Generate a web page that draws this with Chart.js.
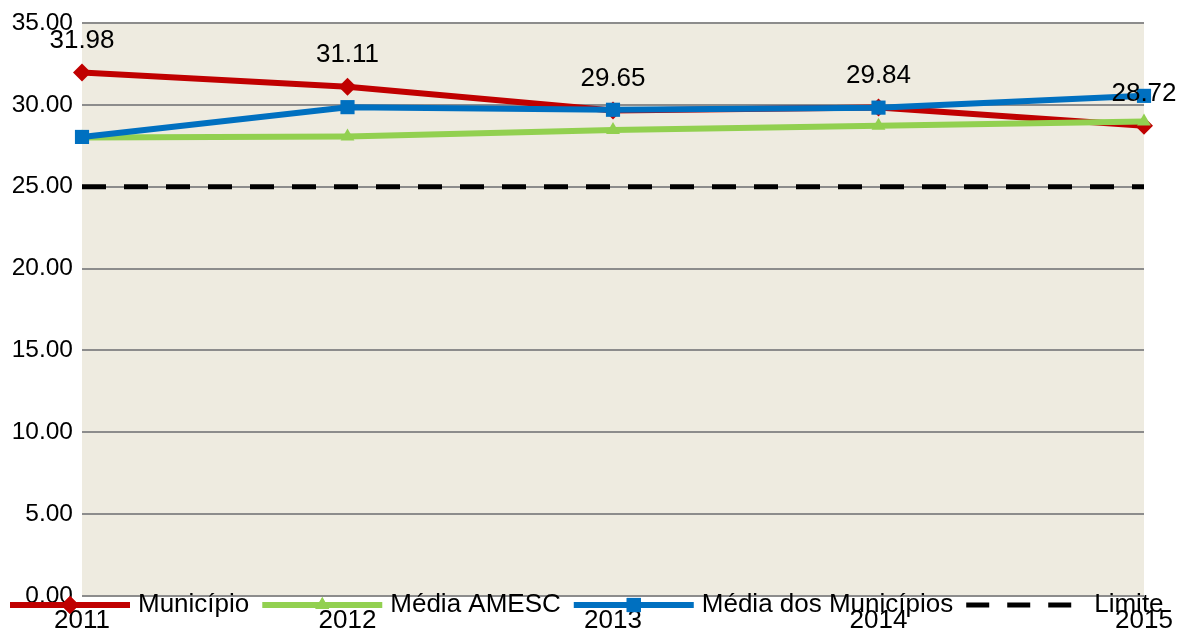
<!DOCTYPE html>
<html>
<head>
<meta charset="utf-8">
<script src="https://cdn.jsdelivr.net/npm/chart.js@4"></script>
<style>
  html, body { margin: 0; padding: 0; background: #fff; }
  #wrap { width: 1178px; height: 630px; }
</style>
</head>
<body>
<div id="wrap"><canvas id="chart"></canvas></div>
<script>
// dados
const anos = ['2011', '2012', '2013', '2014', '2015'];
const municipio = [31.98, 31.11, 29.65, 29.84, 28.72];
const mediaAmesc = [28.0, 28.06, 28.47, 28.72, 28.98];
const mediaMunicipios = [28.04, 29.86, 29.7, 29.83, 30.55];
const limite = [25, 25, 25, 25, 25];

const FONT = "'Liberation Sans', Arial, sans-serif";

// fundo bege da area do grafico
const fundo = {
  id: 'fundo',
  beforeDraw(chart) {
    const { ctx, chartArea: a } = chart;
    ctx.save();
    ctx.fillStyle = '#EEEBE0';
    ctx.fillRect(a.left, a.top, a.right - a.left, a.bottom - a.top);
    ctx.restore();
  }
};

// rotulos so na serie do municipio
const rotulos = {
  id: 'rotulos',
  afterDatasetsDraw(chart) {
    const ctx = chart.ctx;
    const meta = chart.getDatasetMeta(0);
    ctx.save();
    ctx.font = '26px ' + FONT;
    ctx.fillStyle = '#000';
    ctx.textAlign = 'center';
    ctx.textBaseline = 'middle';
    meta.data.forEach((pt, i) => {
      ctx.fillText(municipio[i].toFixed(2), pt.x, pt.y - 32);
    });
    ctx.restore();
  }
};

// legenda desenhada por cima dos anos, como no original
const legenda = {
  id: 'legenda',
  afterDraw(chart) {
    const ctx = chart.ctx;
    const y = 605;
    let x = 10;
    ctx.save();
    ctx.font = '26px ' + FONT;
    ctx.textBaseline = 'middle';
    chart.data.datasets.forEach(ds => {
      ctx.strokeStyle = ds.borderColor;
      ctx.lineWidth = ds.borderWidth;
      ctx.beginPath();
      if (ds.borderDash) {
        ctx.setLineDash([23, 18]);
        ctx.moveTo(x, y);
        ctx.lineTo(x + 106, y);
      } else {
        ctx.moveTo(x, y);
        ctx.lineTo(x + 120, y);
      }
      ctx.stroke();
      ctx.setLineDash([]);
      if (ds.pointRadius) {
        ctx.fillStyle = ds.borderColor;
        Chart.helpers.drawPoint(ctx, {
          pointStyle: ds.pointStyle,
          radius: ds.pointRadius,
          borderWidth: 0,
          rotation: 0
        }, x + 60, y);
        ctx.fill();
      }
      ctx.fillStyle = '#000';
      ctx.fillText(ds.label, x + 128, y);
      x = x + 128 + ctx.measureText(ds.label).width + 13;
    });
    ctx.restore();
  }
};

new Chart(document.getElementById('chart'), {
  type: 'line',
  data: {
    labels: anos,
    datasets: [{
      label: 'Município',
      data: municipio,
      borderColor: '#C00000',
      backgroundColor: '#C00000',
      borderWidth: 6,
      pointStyle: 'rectRot',
      pointRadius: 9,
      pointBorderWidth: 0,
      order: 4
    }, {
      label: 'Média AMESC',
      data: mediaAmesc,
      borderColor: '#92D050',
      backgroundColor: '#92D050',
      borderWidth: 6,
      pointStyle: 'triangle',
      pointRadius: 8,
      pointBorderWidth: 0,
      order: 3
    }, {
      label: 'Média dos Municípios',
      data: mediaMunicipios,
      borderColor: '#0070C0',
      backgroundColor: '#0070C0',
      borderWidth: 6,
      pointStyle: 'rect',
      pointRadius: 10,
      pointBorderWidth: 0,
      order: 2
    }, {
      label: 'Limite',
      data: limite,
      borderColor: '#000000',
      backgroundColor: '#000000',
      borderWidth: 5,
      borderDash: [24, 18],
      pointRadius: 0,
      order: 1
    }]
  },
  options: {
    maintainAspectRatio: false,
    responsive: true,
    animation: false,
    layout: { padding: { top: 23, right: 34, left: 0, bottom: 0 } },
    plugins: {
      legend: { display: false },
      tooltip: { enabled: false }
    },
    scales: {
      x: {
        grid: { display: false, drawTicks: false },
        border: { display: false },
        ticks: { color: '#000', font: { family: FONT, size: 26 }, padding: 9, maxRotation: 0, autoSkip: false },
        afterFit(s) { s.height = 34; s.paddingLeft = 0; s.paddingRight = 0; }
      },
      y: {
        min: 0,
        max: 35,
        grid: { color: '#8c8c8c', lineWidth: 2, drawTicks: false },
        border: { display: false },
        ticks: {
          stepSize: 5,
          color: '#000',
          padding: 9,
          font: { family: FONT, size: 24.5 },
          callback: v => v.toFixed(2)
        },
        afterFit(s) { s.width = 82; s.paddingTop = 0; s.paddingBottom = 0; }
      }
    }
  },
  plugins: [fundo, rotulos, legenda]
});
</script>
</body>
</html>
